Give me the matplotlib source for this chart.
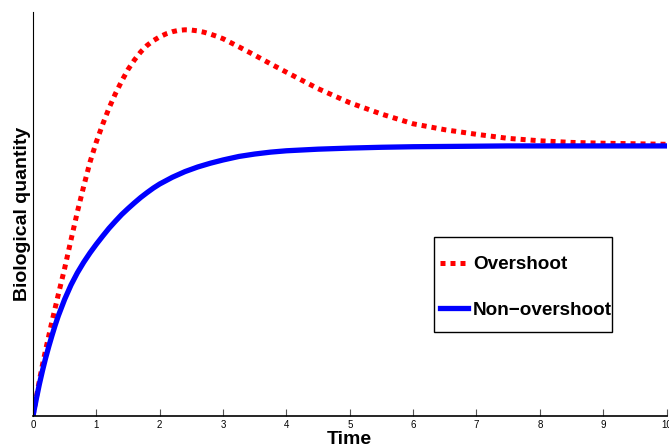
import numpy as np
import matplotlib
matplotlib.use('Agg')
import matplotlib.pyplot as plt
from matplotlib.patches import Rectangle

plt.rcParams['font.family'] = ['Liberation Sans', 'DejaVu Sans']

# Curva con sobreimpulso
t_over = [0, 0.05, 0.1, 0.15, 0.2, 0.3, 0.4, 0.5, 0.6, 0.7, 0.8, 0.9, 1.0,
          1.1, 1.2, 1.3, 1.4, 1.5, 1.6, 1.7, 1.8, 1.9, 2.0, 2.1, 2.2, 2.3,
          2.4, 2.5, 2.6, 2.7, 2.8, 2.9, 3.0, 3.25, 3.5, 3.75, 4.0, 4.5, 5.0,
          5.5, 6.0, 6.5, 7.0, 7.5, 8.0, 8.5, 9.0, 9.5, 10.0]
y_over = [0, 0.065, 0.13, 0.19, 0.245, 0.35, 0.45, 0.547, 0.652, 0.755,
          0.85, 0.94, 1.015, 1.08, 1.14, 1.193, 1.24, 1.283, 1.318, 1.348,
          1.372, 1.39, 1.404, 1.415, 1.423, 1.428, 1.43, 1.429, 1.426, 1.421,
          1.414, 1.406, 1.397, 1.367, 1.336, 1.304, 1.273, 1.212, 1.16,
          1.118, 1.082, 1.06, 1.043, 1.028, 1.019, 1.013, 1.01, 1.008, 1.006]

# Curva sin sobreimpulso
t_non = [0, 0.05, 0.1, 0.15, 0.2, 0.25, 0.3, 0.35, 0.4, 0.5, 0.6, 0.7, 0.8,
         0.9, 1.0, 1.1, 1.2, 1.3, 1.4, 1.5, 1.6, 1.7, 1.8, 1.9, 2.0, 2.2,
         2.4, 2.6, 2.8, 3.0, 3.25, 3.5, 3.75, 4.0, 4.5, 5.0, 5.5, 6.0, 6.5,
         7.0, 7.5, 8.0, 8.5, 9.0, 9.5, 10.0]
y_non = [0, 0.06, 0.117, 0.168, 0.215, 0.258, 0.298, 0.336, 0.371, 0.432,
         0.485, 0.53, 0.569, 0.604, 0.636, 0.666, 0.695, 0.721, 0.746,
         0.768, 0.789, 0.809, 0.827, 0.844, 0.859, 0.884, 0.905, 0.922,
         0.936, 0.948, 0.961, 0.97, 0.977, 0.982, 0.988, 0.992, 0.995,
         0.997, 0.998, 0.999, 1.0, 1.0, 1.0, 1.0, 1.0, 1.0]

xticks = [0, 1, 2, 3, 4, 5, 6, 7, 8, 9, 10]

fig = plt.figure(figsize=(6.69, 4.47), dpi=100)
ax = fig.add_axes([0.0493, 0.0694, 0.947, 0.9038])

ax.plot(t_over, y_over, color='red', lw=3.6, linestyle=(0, (1, 1)),
        dash_capstyle='butt', label='Overshoot')
ax.plot(t_non, y_non, color='blue', lw=3.8, label='Non\u2212overshoot')

ax.set_xlim(0, 10)
ax.set_ylim(0, 1.496)
ax.set_xticks(xticks)
ax.set_xticklabels([str(v) for v in xticks], fontsize=7)
ax.set_yticks([])
ax.tick_params(axis='x', direction='in', length=5, width=0.8,
               color='#555555', pad=3)

ax.spines['top'].set_visible(False)
ax.spines['right'].set_visible(False)
ax.spines['left'].set_linewidth(0.8)
ax.spines['bottom'].set_linewidth(1.2)

ax.set_xlabel('Time', fontsize=14, fontweight='bold')
ax.xaxis.set_label_coords(0.5, -0.038)
ax.set_ylabel('Biological quantity', fontsize=14, fontweight='bold')
ax.yaxis.set_label_coords(-0.003, 0.5)

# Leyenda sin marco y recuadro dibujado aparte
leg = ax.legend(loc='center left', bbox_to_anchor=(0.6425, 0.318),
                prop={'weight': 'bold', 'size': 13.6}, frameon=False,
                handlelength=1.5, handletextpad=0.25, labelspacing=1.5,
                borderpad=0, borderaxespad=0)
ax.add_patch(Rectangle((0.633, 0.208), 0.281, 0.235, transform=ax.transAxes,
                       fill=False, edgecolor='black', lw=1.0, zorder=5))

plt.savefig('out.png', dpi=100)
